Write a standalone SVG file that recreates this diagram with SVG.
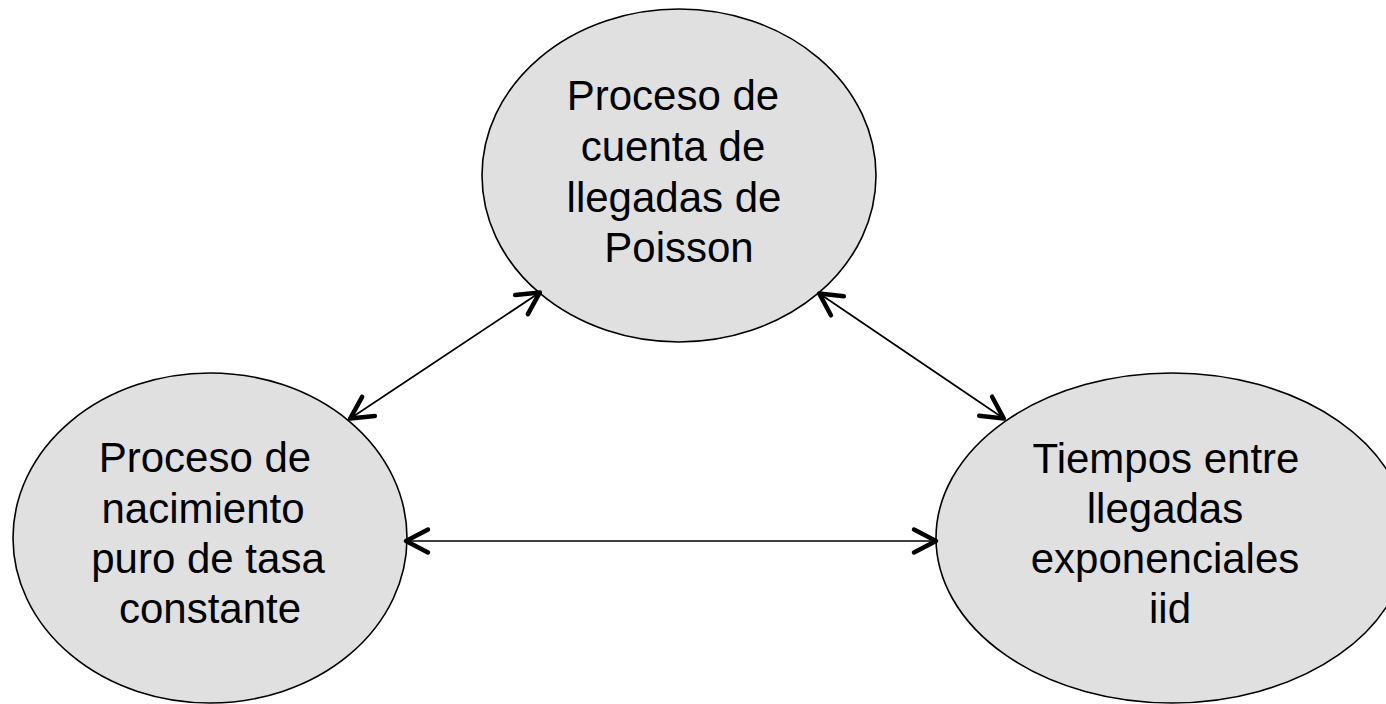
<svg xmlns="http://www.w3.org/2000/svg" width="1386" height="704" viewBox="0 0 1386 704">
<style>
.node{fill:#e0e0e0;stroke:#000;stroke-width:1.6}
.lbl{font-family:"Liberation Sans",Arial,sans-serif;font-size:42px;fill:#000;text-anchor:middle}
.edge{stroke:#000;stroke-width:1.7;fill:none;marker-start:url(#ah);marker-end:url(#ah)}
</style>
<defs>
<marker id="ah" markerUnits="userSpaceOnUse" viewBox="-30 -20 40 40" refX="-1" refY="0" markerWidth="40" markerHeight="40" orient="auto-start-reverse" overflow="visible">
<path d="M -22 -11.5 L 0 0 L -22 11.5" fill="none" stroke="#000" stroke-width="4.5" stroke-linecap="round" stroke-linejoin="round"/>
</marker>
</defs>
<rect width="1386" height="704" fill="#fff"/>
<g id="poisson">
<ellipse class="node" cx="679" cy="175.5" rx="197" ry="166.5"/>
<text class="lbl"><tspan x="673" y="110">Proceso de</tspan><tspan x="673" y="161">cuenta de</tspan><tspan x="674" y="212">llegadas de</tspan><tspan x="679" y="262">Poisson</tspan></text>
</g>
<g id="nacimiento">
<ellipse class="node" cx="210" cy="538" rx="197" ry="165"/>
<text class="lbl"><tspan x="205" y="472">Proceso de</tspan><tspan x="203" y="523">nacimiento</tspan><tspan x="208" y="573">puro de tasa</tspan><tspan x="210" y="623">constante</tspan></text>
</g>
<g id="tiempos">
<ellipse class="node" cx="1172" cy="538" rx="236" ry="165"/>
<text class="lbl"><tspan x="1166" y="473">Tiempos entre</tspan><tspan x="1165" y="523">llegadas</tspan><tspan x="1165" y="573">exponenciales</tspan><tspan x="1170" y="623">iid</tspan></text>
</g>
<g id="connectors">
<line class="edge" x1="351" y1="418" x2="539" y2="293"/>
<line class="edge" x1="820" y1="294" x2="1003" y2="418"/>
<line class="edge" x1="407" y1="541" x2="935" y2="541"/>
</g>
</svg>
